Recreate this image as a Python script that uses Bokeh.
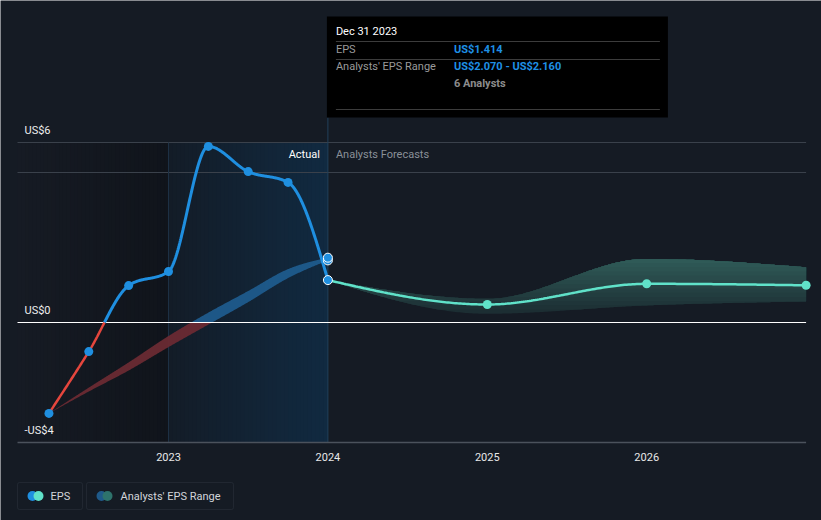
import numpy as np
from bokeh.plotting import figure
from bokeh.models import Range1d, BoxAnnotation
from bokeh.core.properties import value
from bokeh.embed import file_html
from bokeh.resources import INLINE

# ---------------- data ----------------
eps_dates = [2022.25, 2022.5, 2022.75, 2023.0, 2023.25, 2023.5, 2023.75, 2024.0]
eps_values = [-3.03, -0.97, 1.23, 1.70, 5.87, 5.03, 4.67, 1.414]
past_range_low = [-3.03, -2.30, -1.60, -0.82, -0.07, 0.68, 1.48, 2.07]
past_range_high = [-3.03, -2.17, -1.33, -0.45, 0.33, 1.05, 1.78, 2.16]
fc_dates = [2024.0, 2025.0, 2026.0, 2027.0]
fc_values = [1.414, 0.60, 1.29, 1.24]
fc_low = [1.414, 0.29, 0.57, 0.70]
fc_high = [1.414, 0.79, 2.12, 1.84]
year_ticks = [2023, 2024, 2025, 2026]
year_labels = ["2023", "2024", "2025", "2026"]
y_ticks = [6, 0, -4]
y_labels = ["US$6", "US$0", "-US$4"]
band_lines = [6, 5]
actual_start, actual_end = 2023.0, 2024.0
tooltip_title = "Dec 31 2023"
tooltip_rows = [("EPS", "US$1.414"), ("Analysts' EPS Range", "US$2.070 - US$2.160")]
tooltip_note = "6 Analysts"

# ---------------- layout helpers (pixel <-> data) ----------------
W, H = 821, 520
PX_REF, YEAR_REF, PX_PER_YEAR = 168.0, 2023.0, 159.4
PY_ZERO, PX_PER_UNIT = 322.0, 30.0
def tx(px):
    return YEAR_REF + (px - PX_REF) / PX_PER_YEAR
def vy(py):
    return (PY_ZERO - py) / PX_PER_UNIT
def dxp(px):
    return px / PX_PER_YEAR
def dyp(py):
    return py / PX_PER_UNIT

BG = "#151b24"
FONT = value("Roboto")
BLUE = "#1f8fe0"
RED = "#e5463d"
TEAL = "#60e2c9"

def monotone(xs, ys, n=80):
    xs = np.asarray(xs, float); ys = np.asarray(ys, float)
    h = np.diff(xs); s = np.diff(ys) / h
    m = np.zeros(len(xs))
    for i in range(1, len(xs) - 1):
        s0, s1 = s[i - 1], s[i]
        p = (s0 * h[i] + s1 * h[i - 1]) / (h[i - 1] + h[i])
        sg0 = -1 if s0 < 0 else 1
        sg1 = -1 if s1 < 0 else 1
        m[i] = (sg0 + sg1) * min(abs(s0), abs(s1), 0.5 * abs(p))
    if len(xs) > 2:
        m[0] = (3 * s[0] - m[1]) / 2
        m[-1] = (3 * s[-1] - m[-2]) / 2
    else:
        m[0] = m[-1] = s[0]
    X, Y = [], []
    for i in range(len(xs) - 1):
        u = np.linspace(0, 1, n, endpoint=(i == len(xs) - 2))
        h00 = 2 * u**3 - 3 * u**2 + 1
        h10 = u**3 - 2 * u**2 + u
        h01 = -2 * u**3 + 3 * u**2
        h11 = u**3 - u**2
        X.append(xs[i] + u * h[i])
        Y.append(h00 * ys[i] + h10 * h[i] * m[i] + h01 * ys[i + 1] + h11 * h[i] * m[i + 1])
    return np.concatenate(X), np.concatenate(Y)

def split_sign(x, y):
    xs, ys = [x[0]], [y[0]]
    for i in range(1, len(x)):
        if (y[i - 1] < 0) != (y[i] < 0) and y[i - 1] != 0 and y[i] != 0:
            t = y[i - 1] / (y[i - 1] - y[i])
            xs.append(x[i - 1] + t * (x[i] - x[i - 1])); ys.append(0.0)
        xs.append(x[i]); ys.append(y[i])
    xs = np.array(xs); ys = np.array(ys)
    return xs, np.where(ys <= 0, ys, np.nan), np.where(ys >= 0, ys, np.nan)

def hex2rgb(c):
    c = c.lstrip("#"); return [int(c[i:i + 2], 16) for i in (0, 2, 4)]
def lerp(c1, c2, f):
    a, b = hex2rgb(c1), hex2rgb(c2)
    return "#%02x%02x%02x" % tuple(int(round(a[k] + (b[k] - a[k]) * f)) for k in range(3))

def gradient_quads(p, x0, x1, c0, c1, n=40):
    e = np.linspace(x0, x1, n + 1)
    cols = [lerp(c0, c1, (i + 0.5) / n) for i in range(n)]
    step = (x1 - x0) / n
    right = np.minimum(e[1:] + 0.6 * step, x1)
    p.quad(left=e[:-1], right=right, bottom=y_bot, top=y_top, fill_color=cols, line_color=None)

x_left, x_right = tx(17), fc_dates[-1]
y_top, y_bot = max(y_ticks), min(y_ticks)

p = figure(width=W, height=H, x_range=Range1d(tx(0), tx(W)), y_range=Range1d(vy(H), vy(0)),
           x_axis_location=None, y_axis_location=None, toolbar_location=None,
           output_backend="svg", min_border=0, background_fill_color=BG,
           border_fill_color=BG, outline_line_color=None)
p.xgrid.visible = False
p.ygrid.visible = False

# shaded history regions (gradients)
gradient_quads(p, x_left, actual_start, "#161b24", "#10141b")
gradient_quads(p, actual_start, actual_end, "#131c27", "#112a41")

# horizontal lines
p.segment(x0=[x_left] * len(band_lines), x1=[x_right] * len(band_lines), y0=band_lines, y1=band_lines,
          line_color="#3a414b", line_width=1)
p.segment(x0=[actual_start], x1=[actual_start], y0=[y_top], y1=[y_bot], line_color="#1d3044", line_width=1)
p.segment(x0=[actual_end], x1=[actual_end], y0=[vy(117)], y1=[y_bot], line_color="#22405b", line_width=1)
p.segment(x0=[x_left], x1=[x_right], y0=[y_bot], y1=[y_bot], line_color="#4b525c", line_width=1.5)

# past analysts' range band
bx, bl = monotone(eps_dates, past_range_low)
_, bh = monotone(eps_dates, past_range_high)
p.varea(x=bx, y1=np.minimum(bl, 0), y2=np.minimum(bh, 0), fill_color="#6a2a33", fill_alpha=0.95)
p.varea(x=bx, y1=np.maximum(bl, 0), y2=np.maximum(bh, 0), fill_color="#1f5b8c", fill_alpha=0.95)

# forecast band with vertical gradient
fx, fl = monotone(fc_dates, fc_low)
_, fh = monotone(fc_dates, fc_high)
levels = np.linspace(min(fc_low), max(fc_high), 14)
for k, a in enumerate(levels[:-1]):
    c = lerp("#1c2e33", "#2f5a57", k / (len(levels) - 2))
    lo = np.minimum(np.maximum(fl, a), fh)
    p.varea(x=fx, y1=lo, y2=fh, fill_color=c, fill_alpha=1.0)

p.segment(x0=[x_left], x1=[x_right], y0=[0], y1=[0], line_color="#ffffff", line_width=1)

# forecast line
lx, ly = monotone(fc_dates, fc_values)
p.line(lx, ly, line_color=TEAL, line_width=2.5)
p.scatter(fc_dates[1:], fc_values[1:], size=9, fill_color=TEAL, line_color=None)

# EPS line
ex, ey = monotone(eps_dates, eps_values)
sx, neg, pos = split_sign(ex, ey)
p.line(sx, pos, line_color=BLUE, line_width=3)
p.line(sx, neg, line_color=RED, line_width=2.5)
p.scatter(eps_dates[:-1], eps_values[:-1], size=9, fill_color=BLUE, line_color=None)
p.scatter([eps_dates[-1]] * 3, [eps_values[-1], past_range_low[-1], past_range_high[-1]], size=9,
          fill_color=BLUE, line_color="#ffffff", line_width=1)

# axis texts
p.text(x=year_ticks, y=[vy(456)] * 4, text=year_labels, text_font=FONT, text_font_size="11px",
       text_color="#e8e8e8", text_align="center", text_baseline="middle")
p.text(x=[tx(24)] * 3, y=[v + dyp(12.5) for v in y_ticks], text=y_labels, text_font=FONT,
       text_font_size="11px", text_color="#eeeeee", text_align="left", text_baseline="middle")
p.text(x=[actual_end - dxp(8)], y=[vy(154)], text=["Actual"], text_font=FONT, text_font_size="11px",
       text_color="#ffffff", text_align="right", text_baseline="middle")
p.text(x=[actual_end + dxp(8)], y=[vy(154)], text=["Analysts Forecasts"], text_font=FONT,
       text_font_size="11px", text_color="#8a9098", text_align="left", text_baseline="middle")

# tooltip box
tl = actual_end - dxp(1)
p.quad(left=[tl], right=[tl + dxp(341)], top=[vy(16)], bottom=[vy(117)],
       fill_color="#000000", line_color=None)
c1, c2 = tl + dxp(9), tl + dxp(127)
p.segment(x0=[c1] * 3, x1=[tl + dxp(333)] * 3, y0=[vy(41), vy(59), vy(109)], y1=[vy(41), vy(59), vy(109)],
          line_color="#3c3c3c", line_width=1)
p.text(x=[c1], y=[vy(31)], text=[tooltip_title], text_font=FONT, text_font_size="11px",
       text_color="#ffffff", text_baseline="middle")
p.text(x=[c1] * 2, y=[vy(49), vy(66)], text=[r[0] for r in tooltip_rows], text_font=FONT,
       text_font_size="11px", text_color="#9a9a9a", text_baseline="middle")
p.text(x=[c2] * 2, y=[vy(49), vy(66)], text=[r[1] for r in tooltip_rows], text_font=FONT,
       text_font_size="11px", text_font_style="bold", text_color="#1e90e6", text_baseline="middle")
p.text(x=[c2], y=[vy(83)], text=[tooltip_note], text_font=FONT, text_font_size="11px",
       text_font_style="bold", text_color="#8c8c8c", text_baseline="middle")

# legend
for (l, r) in [(17, 82), (86, 233)]:
    p.add_layout(BoxAnnotation(left=tx(l), right=tx(r), top=vy(482), bottom=vy(509), fill_alpha=0,
                               line_color="#3e4550", line_width=1, border_radius=2))
p.scatter([tx(32), tx(38)], [vy(495.5)] * 2, size=10, fill_color=[BLUE, TEAL], line_color=None)
p.scatter([tx(101), tx(107)], [vy(495.5)] * 2, size=10, fill_color=["#1f5a8a", "#2e736c"], line_color=None)
p.text(x=[tx(50), tx(120)], y=[vy(495.5)] * 2, text=["EPS", "Analysts' EPS Range"], text_font=FONT,
       text_font_size="11px", text_color="#d2d5da", text_baseline="middle")

open("out.html", "w").write(file_html(p, INLINE))
